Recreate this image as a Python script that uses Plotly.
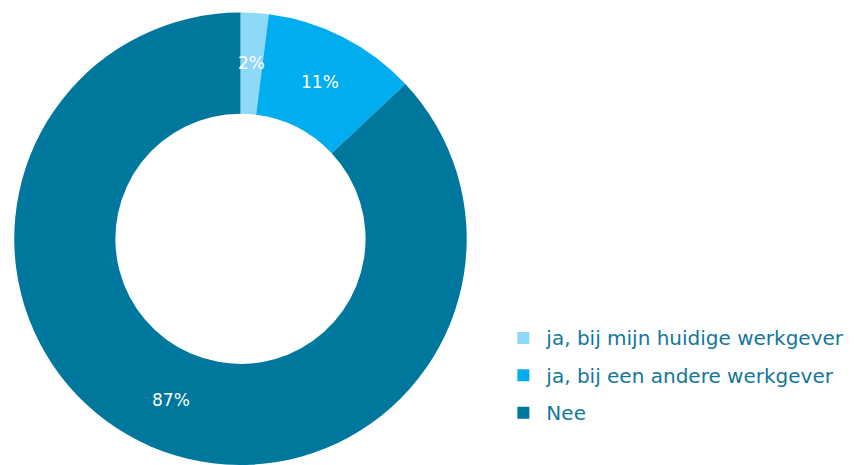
import numpy as np
import plotly.graph_objects as go

labels = ['ja, bij mijn huidige werkgever', 'ja, bij een andere werkgever', 'Nee']
values = [2, 11, 87]
colors = ['#8ed8f8', '#00aeef', '#00779d']

# page body adds 8px margin, so the figure is 8px smaller than the window
W, H = 846, 457
dom_x = [0, 0.5496]
dom_y = [0, 0.99]
hole = 0.553

# larger legend font only sets the row spacing; the visible text is smaller
legend_labels = ['<span style="font-size:20px;baseline-shift:3px">%s</span>' % s for s in labels]

fig = go.Figure()
fig.add_trace(go.Pie(
    labels=legend_labels,
    values=values,
    hole=hole,
    sort=False,
    direction='clockwise',
    rotation=0,
    marker=dict(colors=colors, line=dict(width=0)),
    textinfo='none',
    hoverinfo='percent',
    domain=dict(x=dom_x, y=dom_y),
))

# percentage labels at the middle of each slice, halfway through the ring
R = min((dom_x[1] - dom_x[0]) * W, (dom_y[1] - dom_y[0]) * H) / 2
cx = (dom_x[0] + dom_x[1]) / 2
cy = (dom_y[0] + dom_y[1]) / 2
vals = np.array(values, dtype=float)
ends = np.cumsum(vals) / vals.sum()
mids = ends - vals / vals.sum() / 2
r_lab = R * (1 + hole) / 2
for v, m in zip(vals, mids):
    th = 2 * np.pi * m
    fig.add_annotation(
        x=cx + r_lab * np.sin(th) / W, y=cy + r_lab * np.cos(th) / H,
        xref='paper', yref='paper', showarrow=False,
        xanchor='center', yanchor='middle',
        text='%d%%' % round(100 * v / vals.sum()),
        font=dict(family='DejaVu Sans', size=17, color='white'),
    )

fig.update_layout(
    width=W, height=H,
    margin=dict(l=0, r=0, t=0, b=0),
    paper_bgcolor='white',
    showlegend=True,
    legend=dict(
        x=0.582, y=0.33, xanchor='left', yanchor='top',
        itemwidth=36,
        font=dict(family='DejaVu Sans', size=26.5, color='#13779a'),
    ),
)

fig.write_html("out.html")
